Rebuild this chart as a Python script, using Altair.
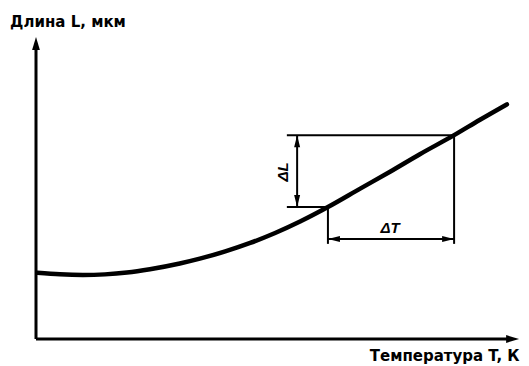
import altair as alt
import pandas as pd

# ---- data (schematic units: T and L on 0..100 scales) ----
curve_T = [0.3, 4.9, 9.6, 14.1, 18.6, 23.3, 29.4, 33.5, 38.7, 43.8, 48.9, 54.0, 59.7, 66.3, 72.4, 78.5, 85.5, 90.8, 96.3]
curve_L = [21.9, 21.4, 21.2, 21.4, 22.0, 23.1, 25.0, 26.6, 29.0, 31.8, 35.1, 38.9, 43.7, 49.8, 55.4, 61.2, 67.5, 72.6, 77.7]

T_AXIS_END, L_AXIS_END = 98.8, 100   # arrow tips of the axes
T1, L1 = 59.7, 43.7      # lower point on curve
T2, L2 = 85.5, 67.5      # upper point on curve
T_EXT = 51.3             # left end of horizontal extension lines
T_DIML = 53.4            # ΔL dimension line
L_DIMT = 33.1            # ΔT dimension line
L_EXT = 31.5             # bottom of vertical extension lines

y_title = "Длина L, мкм"
x_title = "Температура T, К"
dL_label = "ΔL"
dT_label = "ΔT"

PX_T = 4.89              # pixels per T unit
PX_L = 3.02              # pixels per L unit
W, H = 485, 302
T_DOM = W / PX_T
L_DOM = H / PX_L

xs = alt.Scale(domain=[0, T_DOM], nice=False, zero=False)
ys = alt.Scale(domain=[0, L_DOM], nice=False, zero=False)

curve_df = pd.DataFrame({"T": curve_T, "L": curve_L})

axes_df = pd.DataFrame({
    "x": [0, 0], "y": [0, 0],
    "x2": [0, T_AXIS_END - 8 / PX_T], "y2": [L_AXIS_END - 8 / PX_L, 0],
})

dims_df = pd.DataFrame({
    "x":  [T_EXT, T_EXT, T_DIML, T1, T2, T1],
    "y":  [L2, L1, L1, L1, L2, L_DIMT],
    "x2": [T2, T1, T_DIML, T1, T2, T2],
    "y2": [L2, L1, L2, L_EXT, L_EXT, L_DIMT],
})

ax_arrow = 6.5
axis_arrows_df = pd.DataFrame({
    "x": [0, T_AXIS_END - ax_arrow / PX_T],
    "y": [L_AXIS_END - ax_arrow / PX_L, 0],
    "angle": [0, 90],
})

d_arrow = 6
dim_arrows_df = pd.DataFrame({
    "x": [T_DIML, T_DIML, T1 + d_arrow / PX_T, T2 - d_arrow / PX_T],
    "y": [L2 - d_arrow / PX_L, L1 + d_arrow / PX_L, L_DIMT, L_DIMT],
    "angle": [0, 180, 270, 90],
})

enc_rule = dict(
    x=alt.X("x:Q", scale=xs, axis=None),
    y=alt.Y("y:Q", scale=ys, axis=None),
    x2="x2:Q", y2="y2:Q",
)

axes = alt.Chart(axes_df).mark_rule(color="black", strokeWidth=3).encode(**enc_rule)
dims = alt.Chart(dims_df).mark_rule(color="black", strokeWidth=2).encode(**enc_rule)

curve = alt.Chart(curve_df).mark_line(
    color="black", strokeWidth=4.5, interpolate="monotone", strokeCap="round"
).encode(
    x=alt.X("T:Q", scale=xs, axis=None),
    y=alt.Y("L:Q", scale=ys, axis=None),
)

axis_arrows = alt.Chart(axis_arrows_df).mark_point(
    shape="M0,-1L0.6,1L-0.6,1Z", filled=True, color="black", opacity=1, size=169
).encode(
    x=alt.X("x:Q", scale=xs, axis=None),
    y=alt.Y("y:Q", scale=ys, axis=None),
    angle=alt.Angle("angle:Q", scale=None),
)

dim_arrows = alt.Chart(dim_arrows_df).mark_point(
    shape="M0,-1L0.5,1L-0.5,1Z", filled=True, color="black", opacity=1, size=144
).encode(
    x=alt.X("x:Q", scale=xs, axis=None),
    y=alt.Y("y:Q", scale=ys, axis=None),
    angle=alt.Angle("angle:Q", scale=None),
)

def text_layer(label, tx, ly, **kw):
    df = pd.DataFrame({"x": [tx], "y": [ly], "t": [label]})
    return alt.Chart(df).mark_text(color="black", **kw).encode(
        x=alt.X("x:Q", scale=xs, axis=None),
        y=alt.Y("y:Q", scale=ys, axis=None),
        text="t:N",
    )

ytitle = text_layer(y_title, -5.3, 103.3, align="left", baseline="alphabetic",
                    font="DejaVu Sans", fontWeight="bold", fontSize=15)
xtitle = text_layer(x_title, 98.9, -7.4, align="right", baseline="alphabetic",
                    font="DejaVu Sans", fontWeight="bold", fontSize=15)
dl_text = text_layer(dL_label, 50.5, 55.3, align="center", baseline="middle", angle=270,
                     font="Liberation Sans", fontStyle="italic", fontWeight="bold", fontSize=15)
dt_text = text_layer(dT_label, 72.4, 36.9, align="center", baseline="middle",
                     font="Liberation Sans", fontStyle="italic", fontWeight="bold", fontSize=15)

chart = alt.layer(
    axes, dims, curve, axis_arrows, dim_arrows, ytitle, xtitle, dl_text, dt_text
).properties(
    width=W, height=H,
    padding={"left": 28, "top": 29, "right": 0, "bottom": 27},
    autosize="none",
    background="white",
).configure_view(stroke=None)

chart.save("out.html", embed_options={"renderer": "svg", "actions": False})
